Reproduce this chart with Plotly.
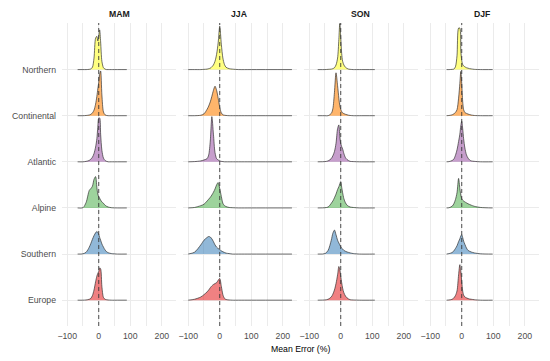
import plotly.graph_objects as go
from plotly.subplots import make_subplots

# ---------------- data ----------------
seasons = ["MAM", "JJA", "SON", "DJF"]
regions = ["Europe", "Southern", "Alpine", "Atlantic", "Continental", "Northern"]  # bottom -> top
x_tick_vals = [-100, 0, 100, 200]
x_minor_vals = [-50, 50, 150]
ref_x = 0
axis_title = "Mean Error (%)"

# density heights (in units of ridge spacing)
mam_x = [-67, -50, -40, -30, -25, -20, -15, -10, -6, -3, 0, 3, 6, 10, 15, 20, 25, 30, 40, 60, 89]
mam_northern = [0, 0, 0, 0.005, 0.015, 0.05, 0.25, 0.68, 0.72, 0.62, 0.72, 0.86, 0.6, 0.18, 0.04, 0.01, 0, 0, 0, 0, 0]
mam_continental = [0, 0, 0.005, 0.015, 0.03, 0.06, 0.12, 0.25, 0.42, 0.58, 0.72, 0.9, 0.97, 0.45, 0.08, 0.02, 0.005, 0, 0, 0, 0]
mam_atlantic = [0, 0, 0.01, 0.03, 0.06, 0.1, 0.18, 0.32, 0.5, 0.75, 0.95, 0.95, 0.6, 0.25, 0.08, 0.03, 0.01, 0, 0, 0, 0]
mam_alpine = [0, 0.005, 0.12, 0.38, 0.42, 0.47, 0.62, 0.68, 0.45, 0.3, 0.24, 0.21, 0.17, 0.13, 0.1, 0.06, 0.035, 0.02, 0.005, 0, 0]
mam_southern = [0, 0.005, 0.04, 0.15, 0.23, 0.32, 0.4, 0.46, 0.49, 0.47, 0.43, 0.36, 0.3, 0.22, 0.15, 0.09, 0.05, 0.03, 0.01, 0, 0]
mam_europe = [0, 0, 0.005, 0.02, 0.04, 0.1, 0.22, 0.4, 0.52, 0.58, 0.62, 0.7, 0.68, 0.3, 0.06, 0.02, 0.01, 0.005, 0, 0, 0]

jja_x = [-100, -80, -60, -50, -40, -35, -30, -25, -20, -15, -10, -5, 0, 5, 10, 15, 20, 30, 40, 60, 100, 229]
jja_northern = [0, 0, 0, 0.005, 0.01, 0.02, 0.03, 0.06, 0.1, 0.18, 0.33, 0.58, 0.94, 0.55, 0.25, 0.11, 0.05, 0.02, 0.01, 0, 0, 0]
jja_continental = [0, 0, 0.01, 0.04, 0.14, 0.21, 0.3, 0.42, 0.55, 0.64, 0.55, 0.38, 0.18, 0.06, 0.02, 0.01, 0.005, 0, 0, 0, 0, 0]
jja_atlantic = [0, 0.005, 0.02, 0.04, 0.07, 0.15, 0.45, 0.98, 0.6, 0.2, 0.07, 0.04, 0.02, 0.01, 0.005, 0, 0, 0, 0, 0, 0, 0]
jja_alpine = [0, 0.01, 0.05, 0.08, 0.15, 0.19, 0.23, 0.28, 0.34, 0.41, 0.5, 0.55, 0.42, 0.25, 0.1, 0.05, 0.03, 0.01, 0.005, 0, 0, 0]
jja_southern = [0, 0.04, 0.2, 0.3, 0.36, 0.38, 0.37, 0.33, 0.27, 0.2, 0.15, 0.12, 0.1, 0.07, 0.05, 0.035, 0.02, 0.01, 0, 0, 0, 0]
jja_europe = [0, 0.02, 0.07, 0.12, 0.18, 0.22, 0.27, 0.31, 0.34, 0.36, 0.38, 0.43, 0.47, 0.3, 0.12, 0.04, 0.015, 0.005, 0, 0, 0, 0]

son_x = [-73, -50, -40, -30, -25, -20, -15, -10, -6, -3, 0, 3, 6, 10, 15, 20, 25, 30, 40, 60, 108]
son_northern = [0, 0, 0.005, 0.01, 0.02, 0.04, 0.1, 0.25, 0.65, 1.0, 0.7, 0.35, 0.18, 0.1, 0.05, 0.025, 0.01, 0.005, 0, 0, 0]
son_continental = [0, 0, 0, 0.05, 0.15, 0.5, 0.93, 0.65, 0.38, 0.22, 0.14, 0.09, 0.06, 0.045, 0.03, 0.02, 0.01, 0.005, 0, 0, 0]
son_atlantic = [0, 0.005, 0.02, 0.07, 0.13, 0.22, 0.4, 0.72, 0.8, 0.55, 0.4, 0.33, 0.28, 0.18, 0.09, 0.05, 0.025, 0.01, 0.005, 0, 0]
son_alpine = [0, 0.005, 0.02, 0.1, 0.15, 0.22, 0.3, 0.4, 0.46, 0.52, 0.57, 0.45, 0.33, 0.2, 0.11, 0.06, 0.035, 0.02, 0.01, 0, 0]
son_southern = [0, 0.01, 0.08, 0.3, 0.45, 0.52, 0.42, 0.3, 0.24, 0.2, 0.16, 0.13, 0.11, 0.08, 0.06, 0.045, 0.035, 0.025, 0.01, 0, 0]
son_europe = [0, 0.005, 0.02, 0.07, 0.13, 0.22, 0.36, 0.55, 0.73, 0.66, 0.52, 0.38, 0.26, 0.16, 0.09, 0.05, 0.025, 0.01, 0.005, 0, 0]

djf_x = [-48, -40, -30, -25, -20, -15, -10, -6, -3, 0, 3, 6, 10, 15, 20, 25, 30, 40, 60, 98]
djf_northern = [0, 0, 0.005, 0.01, 0.06, 0.3, 0.9, 0.9, 0.4, 0.2, 0.11, 0.08, 0.06, 0.04, 0.03, 0.02, 0.015, 0.005, 0, 0]
djf_continental = [0, 0.005, 0.02, 0.04, 0.07, 0.13, 0.38, 0.7, 0.96, 0.7, 0.31, 0.13, 0.07, 0.05, 0.035, 0.025, 0.015, 0.005, 0, 0]
djf_atlantic = [0, 0.005, 0.03, 0.06, 0.14, 0.26, 0.44, 0.6, 0.78, 0.88, 0.72, 0.5, 0.3, 0.15, 0.08, 0.04, 0.02, 0.01, 0, 0]
djf_alpine = [0, 0.005, 0.04, 0.09, 0.18, 0.33, 0.64, 0.42, 0.28, 0.2, 0.17, 0.15, 0.13, 0.11, 0.09, 0.075, 0.06, 0.035, 0.01, 0]
djf_southern = [0, 0.01, 0.035, 0.07, 0.12, 0.18, 0.27, 0.33, 0.39, 0.42, 0.36, 0.28, 0.21, 0.13, 0.08, 0.06, 0.045, 0.025, 0.005, 0]
djf_europe = [0, 0.005, 0.02, 0.05, 0.1, 0.2, 0.55, 0.77, 0.62, 0.41, 0.2, 0.11, 0.07, 0.05, 0.035, 0.025, 0.02, 0.01, 0, 0]

season_x = {"MAM": mam_x, "JJA": jja_x, "SON": son_x, "DJF": djf_x}
heights = {
    "MAM": {"Northern": mam_northern, "Continental": mam_continental, "Atlantic": mam_atlantic,
            "Alpine": mam_alpine, "Southern": mam_southern, "Europe": mam_europe},
    "JJA": {"Northern": jja_northern, "Continental": jja_continental, "Atlantic": jja_atlantic,
            "Alpine": jja_alpine, "Southern": jja_southern, "Europe": jja_europe},
    "SON": {"Northern": son_northern, "Continental": son_continental, "Atlantic": son_atlantic,
            "Alpine": son_alpine, "Southern": son_southern, "Europe": son_europe},
    "DJF": {"Northern": djf_northern, "Continental": djf_continental, "Atlantic": djf_atlantic,
            "Alpine": djf_alpine, "Southern": djf_southern, "Europe": djf_europe},
}

# ---------------- style ----------------
fill_colors = {
    "Europe": "rgba(228,26,28,0.55)",
    "Southern": "rgba(55,126,184,0.55)",
    "Alpine": "rgba(77,175,74,0.55)",
    "Atlantic": "rgba(152,78,163,0.55)",
    "Continental": "rgba(255,127,0,0.58)",
    "Northern": "rgba(255,255,51,0.62)",
}
FONT = "Liberation Sans, Arial, sans-serif"
GRID = "#ebebeb"
OUTLINE = "rgba(45,45,45,0.85)"

W, H = 550, 361
PAGE_OFFSET = 8  # default body margin of the html page
ML, MR, MT, MB = 62 - PAGE_OFFSET, 11 + PAGE_OFFSET, 23 - PAGE_OFFSET, 35 + PAGE_OFFSET
plot_w = W - ML - MR
plot_h = H - MT - MB
gap = 7

fig = make_subplots(rows=1, cols=4, shared_yaxes=True, horizontal_spacing=gap / plot_w)

ypos = {r: i + 1 for i, r in enumerate(regions)}

for ci, s in enumerate(seasons):
    col = ci + 1
    xs = season_x[s]
    for r in reversed(regions):  # top ridge first, lower ridges drawn on top
        base = ypos[r]
        ys = [base + h for h in heights[s][r]]
        fig.add_trace(go.Scatter(x=[xs[0], xs[-1]], y=[base, base], mode="lines",
                                 line=dict(width=0, color="rgba(0,0,0,0)"),
                                 hoverinfo="skip", showlegend=False), row=1, col=col)
        fig.add_trace(go.Scatter(x=xs, y=ys, mode="lines", fill="tonexty",
                                 fillcolor=fill_colors[r],
                                 line=dict(color=OUTLINE, width=0.8, shape="spline", smoothing=0.8),
                                 hoverinfo="skip", showlegend=False), row=1, col=col)
    fig.add_shape(type="line", x0=ref_x, x1=ref_x, y0=0, y1=1, xref=f"x{col if col > 1 else ''}",
                  yref=f"y{col if col > 1 else ''} domain",
                  line=dict(color="#3a3a3a", width=0.9, dash="4px,3px"), layer="above")
    fig.update_xaxes(row=1, col=col, range=[-116.5, 245], tickvals=x_tick_vals, automargin=False,
                     showgrid=True, gridcolor=GRID, gridwidth=1, zeroline=False,
                     showline=False, ticks="", ticklabelstandoff=3,
                     tickfont=dict(size=8.7, color="#4d4d4d", family=FONT),
                     minor=dict(tickvals=x_minor_vals, showgrid=True, gridcolor=GRID, gridwidth=1, ticks=""))
    fig.update_yaxes(row=1, col=col, range=[0.44, 7.01], tickvals=list(ypos.values()), automargin=False,
                     ticktext=list(ypos.keys()), showgrid=True, gridcolor=GRID, gridwidth=1,
                     zeroline=False, showline=False, ticks="", ticklabelstandoff=5,
                     tickfont=dict(size=8.7, color="#4d4d4d", family=FONT))
    # facet strip title
    dom_l = ci * (114 + gap) / plot_w
    fig.add_annotation(text=f"<b>{s}</b>", x=dom_l + 57 / plot_w, y=1 + 9 / plot_h,
                       xref="paper", yref="paper", showarrow=False, xanchor="center", yanchor="middle",
                       font=dict(size=8.7, color="#1a1a1a", family=FONT))

fig.add_annotation(text=axis_title, x=0.5, y=-23 / plot_h, xref="paper", yref="paper",
                   showarrow=False, xanchor="center", yanchor="middle",
                   font=dict(size=8.7, color="#000000", family=FONT))

fig.update_layout(width=W, height=H, margin=dict(l=ML, r=MR, t=MT, b=MB, autoexpand=False),
                  plot_bgcolor="white", paper_bgcolor="white", showlegend=False,
                  font=dict(family=FONT))

fig.write_html("out.html")
